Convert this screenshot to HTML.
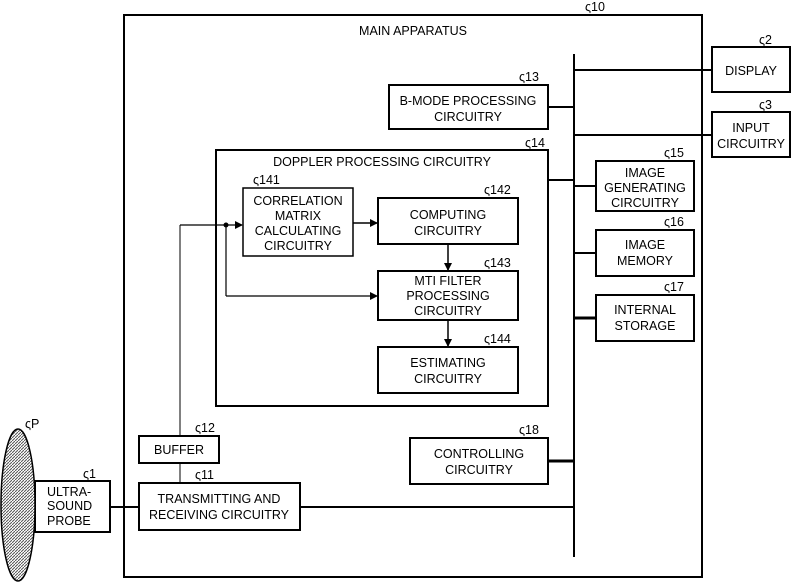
<!DOCTYPE html>
<html><head><style>body{margin:0;background:#fff}svg{display:block}text{font-family:"Liberation Sans",sans-serif;font-size:12.5px;fill:#000}</style></head>
<body>
<svg width="794" height="583" viewBox="0 0 794 583" xmlns="http://www.w3.org/2000/svg">
<defs>
<pattern id="dots" width="3" height="3" patternUnits="userSpaceOnUse"><rect width="3" height="3" fill="#fff"/><path d="M0 3L3 0" stroke="#555" stroke-width="1"/></pattern>
<marker id="ar" markerWidth="8" markerHeight="8" refX="7" refY="4" orient="auto" markerUnits="userSpaceOnUse"><path d="M0 0L8 4L0 8z" fill="#000"/></marker>
</defs>
<g fill="none" stroke="#000" stroke-width="2">
<rect x="124" y="15" width="578" height="562"/>
<rect x="216" y="150" width="332" height="256"/>
<rect x="243" y="188" width="110" height="68" stroke-width="1.5"/>
<rect x="378" y="198" width="140" height="46"/>
<rect x="378" y="271" width="140" height="49"/>
<rect x="378" y="347" width="140" height="46"/>
<rect x="389" y="85" width="159" height="44"/>
<rect x="712" y="47" width="78" height="45"/>
<rect x="712" y="112" width="78" height="45"/>
<rect x="596" y="161" width="98" height="50"/>
<rect x="596" y="230" width="98" height="46"/>
<rect x="596" y="295" width="98" height="46"/>
<rect x="410" y="438" width="138" height="46"/>
<rect x="139" y="436" width="80" height="27"/>
<rect x="139" y="483" width="161" height="47"/>
<rect x="35" y="481" width="75" height="51"/>
<line x1="574" y1="54" x2="574" y2="557"/>
<line x1="574" y1="70" x2="712" y2="70"/>
<line x1="574" y1="135" x2="712" y2="135"/>
<line x1="548" y1="107" x2="574" y2="107"/>
<line x1="548" y1="180" x2="574" y2="180"/>
<line x1="574" y1="186" x2="596" y2="186"/>
<line x1="574" y1="253" x2="596" y2="253"/>
<line x1="574" y1="318" x2="596" y2="318" stroke-width="3"/>
<line x1="548" y1="461" x2="574" y2="461" stroke-width="3"/>
<line x1="300" y1="507" x2="574" y2="507"/>
<line x1="110" y1="507" x2="139" y2="507"/>
<line x1="180" y1="463" x2="180" y2="483" stroke-width="1"/>
<line x1="180" y1="436" x2="180" y2="225" stroke-width="1"/>
<line x1="180" y1="225" x2="242" y2="225" stroke-width="1.2" marker-end="url(#ar)"/>
<line x1="226" y1="225" x2="226" y2="296" stroke-width="1.2"/>
<line x1="226" y1="296" x2="377" y2="296" stroke-width="1.2" marker-end="url(#ar)"/>
<line x1="353" y1="223" x2="377" y2="223" stroke-width="1.5" marker-end="url(#ar)"/>
<line x1="448" y1="244" x2="448" y2="270" stroke-width="1.5" marker-end="url(#ar)"/>
<line x1="448" y1="320" x2="448" y2="346" stroke-width="1.5" marker-end="url(#ar)"/>
</g>
<circle cx="226" cy="225" r="2.5" fill="#000"/>
<ellipse cx="18" cy="505" rx="17" ry="76" fill="url(#dots)" stroke="#000" stroke-width="1.5"/>
<g text-anchor="middle">
<text x="413" y="35">MAIN APPARATUS</text>
<text x="382" y="166">DOPPLER PROCESSING CIRCUITRY</text>
<text x="298" y="205">CORRELATION</text><text x="298" y="220">MATRIX</text><text x="298" y="235">CALCULATING</text><text x="298" y="250">CIRCUITRY</text>
<text x="448" y="219">COMPUTING</text><text x="448" y="235">CIRCUITRY</text>
<text x="448" y="285">MTI FILTER</text><text x="448" y="300">PROCESSING</text><text x="448" y="315">CIRCUITRY</text>
<text x="448" y="367">ESTIMATING</text><text x="448" y="383">CIRCUITRY</text>
<text x="468" y="105">B-MODE PROCESSING</text><text x="468" y="121">CIRCUITRY</text>
<text x="751" y="75">DISPLAY</text>
<text x="751" y="132">INPUT</text><text x="751" y="148">CIRCUITRY</text>
<text x="645" y="177">IMAGE</text><text x="645" y="192">GENERATING</text><text x="645" y="207">CIRCUITRY</text>
<text x="645" y="249">IMAGE</text><text x="645" y="265">MEMORY</text>
<text x="645" y="314">INTERNAL</text><text x="645" y="330">STORAGE</text>
<text x="479" y="458">CONTROLLING</text><text x="479" y="474">CIRCUITRY</text>
<text x="179" y="454">BUFFER</text>
<text x="219" y="503">TRANSMITTING AND</text><text x="219" y="519">RECEIVING CIRCUITRY</text>
</g>
<text x="47" y="496">ULTRA-</text><text x="47" y="510">SOUND</text><text x="47" y="525">PROBE</text>
<g font-size="12">
<text x="585" y="11">ς10</text>
<text x="759" y="44">ς2</text>
<text x="759" y="109">ς3</text>
<text x="519" y="81">ς13</text>
<text x="525" y="147">ς14</text>
<text x="664" y="157">ς15</text>
<text x="664" y="226">ς16</text>
<text x="664" y="291">ς17</text>
<text x="519" y="434">ς18</text>
<text x="253" y="184">ς141</text>
<text x="484" y="194">ς142</text>
<text x="484" y="267">ς143</text>
<text x="484" y="343">ς144</text>
<text x="195" y="432">ς12</text>
<text x="195" y="479">ς11</text>
<text x="83" y="478">ς1</text>
<text x="25" y="428">ςP</text>
</g>
</svg>
</body></html>
